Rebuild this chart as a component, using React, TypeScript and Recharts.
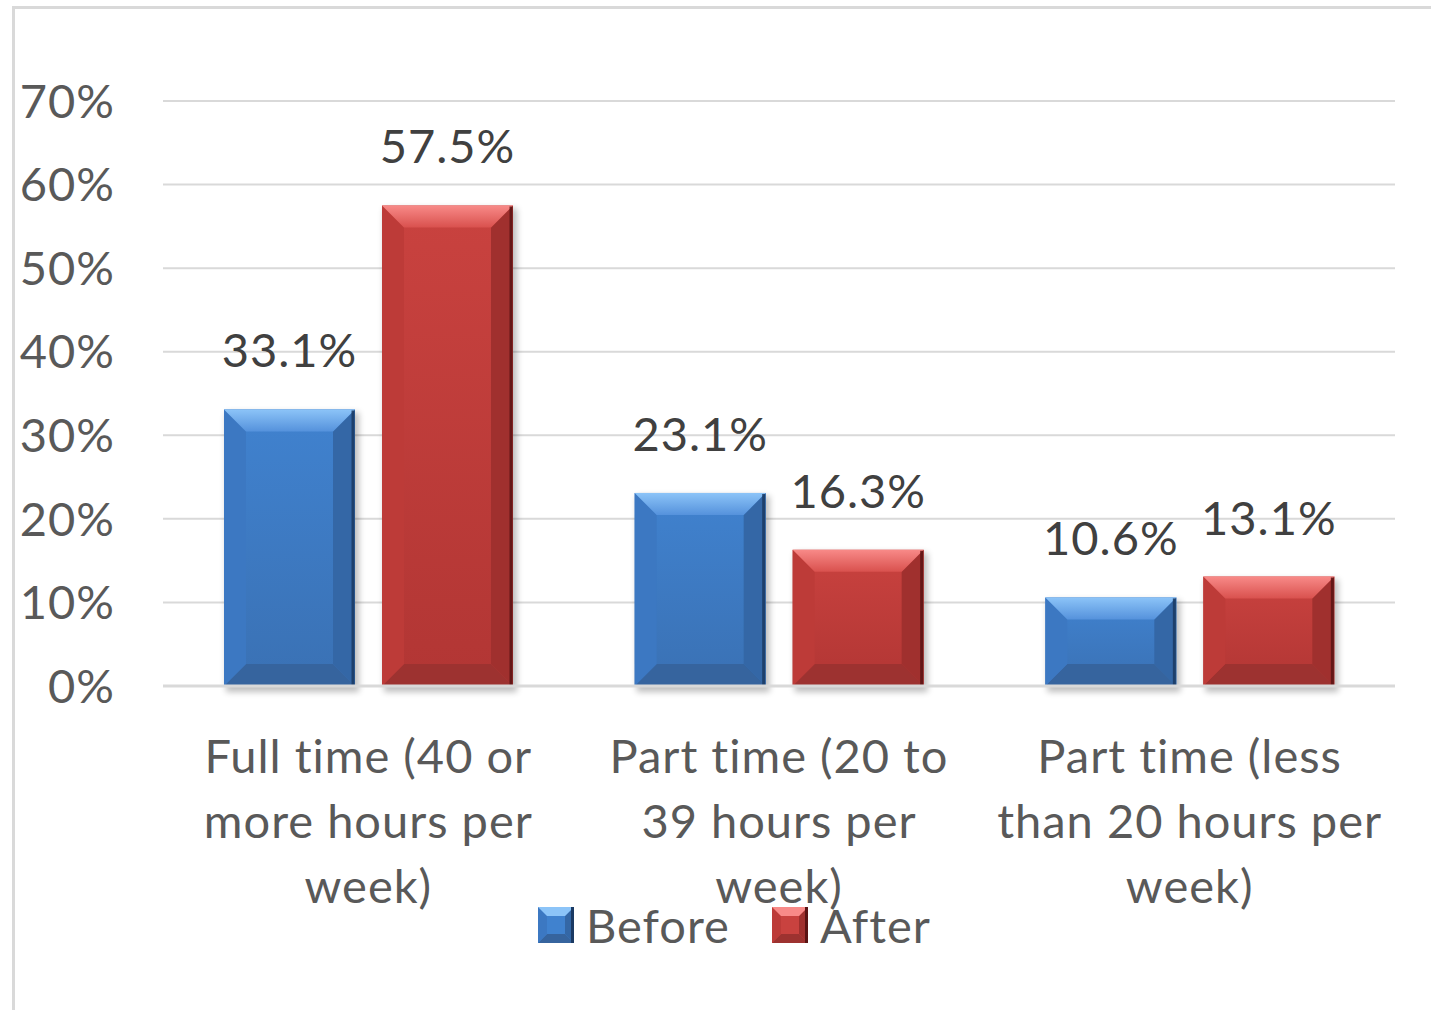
import React from "react";
import {
  Bar,
  BarChart,
  CartesianGrid,
  LabelList,
  XAxis,
  YAxis,
} from "recharts";

const categories = [
  ["Full time (40 or", "more hours per", "week)"],
  ["Part time (20 to", "39 hours per", "week)"],
  ["Part time (less", "than 20 hours per", "week)"],
];
const beforeValues = [33.1, 23.1, 10.6];
const afterValues = [57.5, 16.3, 13.1];
const yTicks = [0, 10, 20, 30, 40, 50, 60, 70];
const seriesNames = ["Before", "After"];

const data = categories.map((lines, i) => ({
  name: lines.join(" "),
  lines,
  before: beforeValues[i],
  after: afterValues[i],
}));

const FONT = "Lato, 'Open Sans', sans-serif";
const TEXT = "#595959";
const SIZE = 47;
const SPACING = 1;

const tones = {
  blue: {
    bodyTop: "#4082cf",
    bodyBottom: "#3a71b4",
    bevelTop: "#8cc4f8",
    bevelBottom: "#5592dc",
    left: "#3c78c2",
    right: "#3467a6",
    bottom: "#36649e",
    edge: "#1b3a63",
  },
  red: {
    bodyTop: "#c9423f",
    bodyBottom: "#b23634",
    bevelTop: "#f88a88",
    bevelBottom: "#d9514e",
    left: "#bd3b38",
    right: "#a0302e",
    bottom: "#9d3230",
    edge: "#5a1313",
  },
};

type Tone = keyof typeof tones;

function BevelBar(props: any) {
  const { x, y, width, height, index, tone } = props;
  if (!height || height <= 0) return null;
  const c = tones[tone as Tone];
  const id = `${tone}-${index}`;
  const b = Math.min(22, width / 4, height / 3);
  const r = x + width;
  const btm = y + height;
  return (
    <g>
      <defs>
        <linearGradient id={`body-${id}`} x1="0" y1="0" x2="0" y2="1">
          <stop offset="0%" stopColor={c.bodyTop} />
          <stop offset="100%" stopColor={c.bodyBottom} />
        </linearGradient>
        <linearGradient id={`top-${id}`} x1="0" y1="0" x2="0" y2="1">
          <stop offset="0%" stopColor={c.bevelTop} />
          <stop offset="100%" stopColor={c.bevelBottom} />
        </linearGradient>
        <filter id={`shadow-${id}`} x="-20%" y="-20%" width="140%" height="140%">
          <feGaussianBlur stdDeviation="3" />
        </filter>
      </defs>
      <rect
        x={x + 2}
        y={y + 3}
        width={width + 2}
        height={height + 3}
        fill="#000"
        opacity={0.25}
        filter={`url(#shadow-${id})`}
      />
      <rect x={x} y={y} width={width} height={height} fill={`url(#body-${id})`} />
      <polygon
        points={`${x},${btm} ${r},${btm} ${r - b},${btm - b} ${x + b},${btm - b}`}
        fill={c.bottom}
      />
      <polygon
        points={`${x},${y} ${x + b},${y + b} ${x + b},${btm - b} ${x},${btm}`}
        fill={c.left}
      />
      <polygon
        points={`${r},${y} ${r - b},${y + b} ${r - b},${btm - b} ${r},${btm}`}
        fill={c.right}
      />
      <polygon
        points={`${x},${y} ${r},${y} ${r - b},${y + b} ${x + b},${y + b}`}
        fill={`url(#top-${id})`}
      />
      <line x1={r - 2} y1={y + 1} x2={r - 2} y2={btm} stroke={c.edge} strokeWidth={3} opacity={0.85} />
    </g>
  );
}

function CategoryTick(props: any) {
  const { x, y, payload, index } = props;
  const lines = categories[index] ?? [String(payload.value)];
  return (
    <text
      x={x}
      y={y}
      textAnchor="middle"
      fill={TEXT}
      fontSize={SIZE}
      fontFamily={FONT}
      letterSpacing={SPACING}
    >
      {lines.map((line, i) => (
        <tspan key={i} x={x} y={y + 87 + i * 65}>
          {line}
        </tspan>
      ))}
    </text>
  );
}

function LegendIcon({ tone }: { tone: Tone }) {
  const c = tones[tone];
  const s = 36;
  const b = 9;
  return (
    <svg width={s} height={s} style={{ display: "block" }}>
      <rect x={0} y={0} width={s} height={s} fill={c.bodyTop} />
      <polygon points={`0,${s} ${s},${s} ${s - b},${s - b} ${b},${s - b}`} fill={c.bottom} />
      <polygon points={`0,0 ${b},${b} ${b},${s - b} 0,${s}`} fill={c.left} />
      <polygon points={`${s},0 ${s - b},${b} ${s - b},${s - b} ${s},${s}`} fill={c.right} />
      <polygon points={`0,0 ${s},0 ${s - b},${b} ${b},${b}`} fill={c.bevelTop} />
      <line x1={s - 1.5} y1={0} x2={s - 1.5} y2={s} stroke={c.edge} strokeWidth={3} />
    </svg>
  );
}

export default function App() {
  const fmt = (v: any) => `${Number(v).toFixed(1)}%`;
  return (
    <div
      style={{
        position: "absolute",
        top: 0,
        left: 0,
        width: 1431,
        height: 1010,
        background: "#ffffff",
        fontFamily: FONT,
      }}
    >
      <div
        style={{
          position: "absolute",
          left: 12,
          top: 6,
          width: 1431 - 12,
          height: 1010 - 6,
          borderTop: "3px solid #d9d9d9",
          borderLeft: "3px solid #d9d9d9",
          boxSizing: "border-box",
        }}
      />
      <BarChart
        width={1431}
        height={1010}
        data={data}
        margin={{ top: 101, right: 36, left: 0, bottom: 94 }}
        barCategoryGap={61}
        barGap={27}
        style={{ position: "absolute", top: 0, left: 0 }}
      >
        <CartesianGrid vertical={false} stroke="#d9d9d9" strokeWidth={2} />
        <XAxis
          dataKey="name"
          height={230}
          interval={0}
          tickLine={false}
          tickSize={0}
          tickMargin={0}
          axisLine={{ stroke: "#d9d9d9", strokeWidth: 3 }}
          tick={<CategoryTick />}
        />
        <YAxis
          width={163}
          domain={[0, 70]}
          ticks={yTicks}
          interval={0}
          axisLine={false}
          tickLine={false}
          tickSize={0}
          tickMargin={48}
          tickFormatter={(v) => `${v}%`}
          tick={{ fill: TEXT, fontSize: SIZE, fontFamily: FONT, letterSpacing: SPACING }}
        />
        <Bar
          dataKey="before"
          name={seriesNames[0]}
          isAnimationActive={false}
          shape={(p: any) => <BevelBar {...p} tone="blue" />}
        >
          <LabelList
            dataKey="before"
            position="top"
            offset={42}
            formatter={fmt}
            fill="#404040"
            fontSize={SIZE}
            fontFamily={FONT}
            letterSpacing={SPACING}
          />
        </Bar>
        <Bar
          dataKey="after"
          name={seriesNames[1]}
          isAnimationActive={false}
          shape={(p: any) => <BevelBar {...p} tone="red" />}
        >
          <LabelList
            dataKey="after"
            position="top"
            offset={42}
            formatter={fmt}
            fill="#404040"
            fontSize={SIZE}
            fontFamily={FONT}
            letterSpacing={SPACING}
          />
        </Bar>
      </BarChart>
      <div
        style={{
          position: "absolute",
          left: 538,
          top: 907,
          height: 36,
          display: "flex",
          alignItems: "center",
          fontSize: SIZE,
          letterSpacing: SPACING,
          color: TEXT,
          lineHeight: "36px",
          whiteSpace: "nowrap",
        }}
      >
        <LegendIcon tone="blue" />
        <span style={{ marginLeft: 12, marginRight: 42 }}>{seriesNames[0]}</span>
        <LegendIcon tone="red" />
        <span style={{ marginLeft: 12 }}>{seriesNames[1]}</span>
      </div>
    </div>
  );
}
